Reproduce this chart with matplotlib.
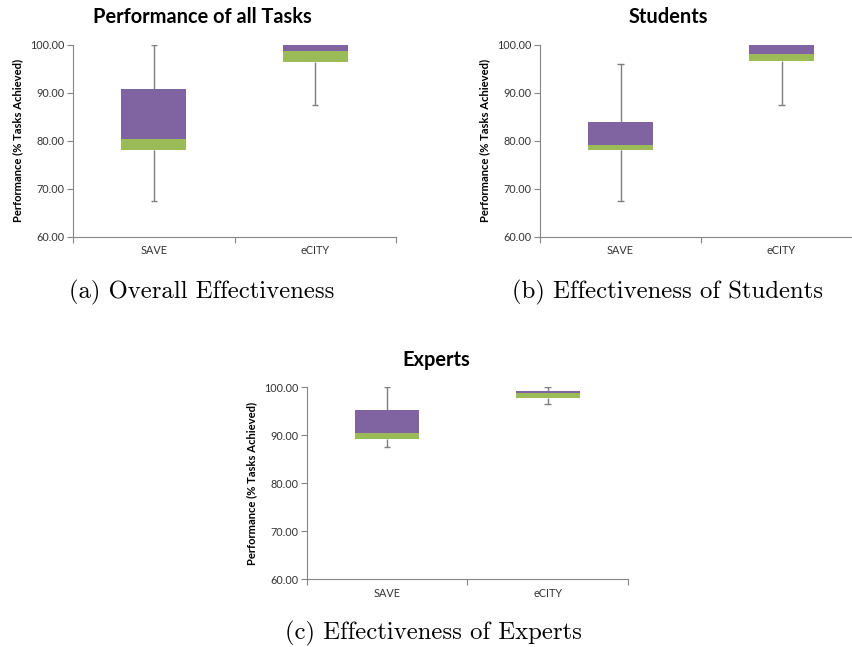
import numpy as np
import matplotlib
matplotlib.use("Agg")
import matplotlib.pyplot as plt

# Box plot values (Excel-style stacked bars)
groups = ['SAVE', 'eCITY']
titles = ['Performance of all Tasks', 'Students', 'Experts']
captions = ['(a) Overall Effectiveness', '(b) Effectiveness of Students',
            '(c) Effectiveness of Experts']

mins = [[67.4, 87.4], [67.4, 87.4], [87.5, 96.5]]
q1s = [[78.0, 96.4], [78.0, 96.7], [89.2, 97.7]]
medians = [[80.4, 98.75], [79.2, 98.1], [90.5, 98.9]]
q3s = [[90.7, 99.9], [83.8, 99.9], [95.2, 99.3]]
maxs = [[100.0, 100.0], [95.9, 100.0], [100.0, 100.0]]

yticks = [60, 70, 80, 90, 100]

W, H = 852, 647
fig = plt.figure(figsize=(W / 100, H / 100), dpi=100)

# pixel boxes: left, top, right, bottom
boxes = [(73, 44.7, 396, 236.7), (540, 44.7, 862, 236.7), (306.7, 387.3, 628, 579.3)]
title_pos = [(202, 17), (668, 17), (436, 360)]
caption_pos = [(202, 292), (668, 292), (433, 633)]
ylabel_x = [18, 485, 252]

purple = '#8064A2'
green = '#9BBB59'
grey = '#868686'
wcol = '#7f7f7f'

for i in range(3):
    l, t, r, b = boxes[i]
    ax = fig.add_axes([l / W, 1 - b / H, (r - l) / W, (b - t) / H])
    x = np.arange(len(groups))
    q1 = np.array(q1s[i])
    med = np.array(medians[i])
    q3 = np.array(q3s[i])
    lo = np.array(mins[i])
    hi = np.array(maxs[i])

    ax.bar(x, med - q1, bottom=q1, width=0.4, color=green, zorder=2)
    ax.bar(x, q3 - med, bottom=med, width=0.4, color=purple, zorder=2)
    # whiskers with small caps
    ax.vlines(x, lo, q1, color=wcol, lw=1, zorder=1)
    ax.vlines(x, q3, hi, color=wcol, lw=1, zorder=1)
    ax.hlines(lo, x - 0.02, x + 0.02, color=wcol, lw=1, zorder=1)
    ax.hlines(hi, x - 0.02, x + 0.02, color=wcol, lw=1, zorder=1)

    ax.set_xlim(-0.5, 1.5)
    ax.set_ylim(60, 100)
    ax.set_yticks(yticks)
    ax.set_yticklabels(['%.2f' % v for v in yticks], fontsize=7.8,
                       fontfamily='Lato', color='#333333')
    ax.set_xticks([-0.5, 0.5, 1.5])
    ax.set_xticklabels([])
    ax.set_xticks(x, minor=True)
    ax.set_xticklabels(groups, minor=True, fontsize=7.8, fontfamily='Lato',
                       color='#333333')
    ax.tick_params(axis='x', which='minor', length=0, pad=6)
    ax.tick_params(axis='x', which='major', length=4, color=grey, direction='out')
    ax.tick_params(axis='y', length=4, color=grey, direction='out', pad=2)
    for s in ['top', 'right']:
        ax.spines[s].set_visible(False)
    for s in ['left', 'bottom']:
        ax.spines[s].set_color(grey)
        ax.spines[s].set_linewidth(0.8)
    ax.patch.set_alpha(0)

    fig.text(ylabel_x[i] / W, 1 - (t + b) / 2 / H, 'Performance (% Tasks Achieved)',
             rotation=90, ha='center', va='center', fontsize=8.1,
             fontweight='bold', fontfamily='Lato')
    fig.text(title_pos[i][0] / W, 1 - title_pos[i][1] / H, titles[i], ha='center',
             va='center', fontsize=14.4, fontweight='bold', fontfamily='Lato')
    fig.text(caption_pos[i][0] / W, 1 - caption_pos[i][1] / H, captions[i],
             ha='center', va='center', fontsize=17.8, fontfamily='cmr10')

fig.savefig('out.png', dpi=100)
